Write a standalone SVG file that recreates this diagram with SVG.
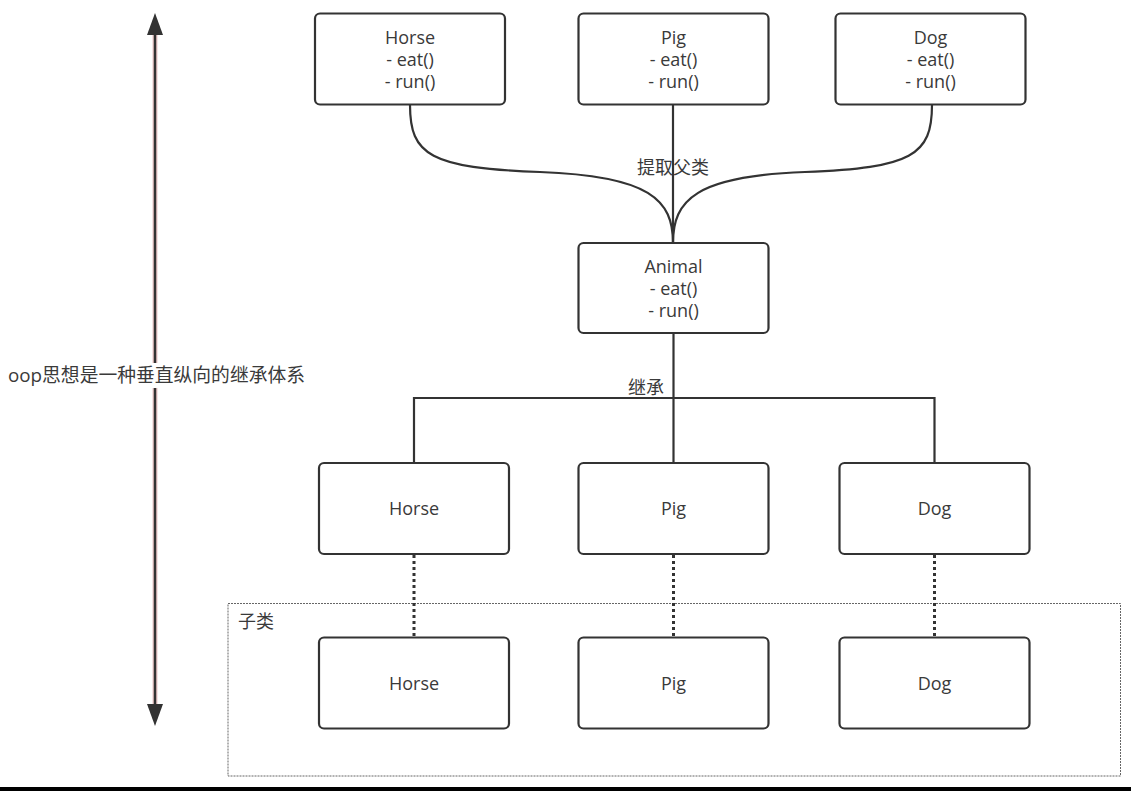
<svg xmlns="http://www.w3.org/2000/svg" width="1131" height="791" viewBox="0 0 1131 791">
<style>
.box{fill:#fff;stroke:#333;stroke-width:2.2}
.t{font-family:"Open Sans","Noto Sans CJK SC",sans-serif;font-size:18px;fill:#3a3a3a;text-anchor:middle}
.c{fill:none;stroke:#333;stroke-width:2.2}
.dot{fill:none;stroke:#333;stroke-width:3;stroke-dasharray:3 3}
</style>
<rect x="0" y="0" width="1131" height="791" fill="#fff"/>
<g id="container">
<rect x="228" y="603.5" width="892.5" height="172.5" fill="none" stroke="#666" stroke-width="1" stroke-dasharray="2 1"/>
<text class="t" x="256" y="628">子类</text>
</g>
<g id="axis">
<line x1="155" y1="33" x2="155" y2="706" stroke="#ecc9c9" stroke-width="5"/>
<line x1="155" y1="33" x2="155" y2="706" stroke="#333" stroke-width="2.5"/>
<polygon points="155,13 147,35 163,35" fill="#333"/>
<polygon points="155,726 147,704 163,704" fill="#333"/>
<rect x="6" y="363" width="301" height="25" fill="#fff"/>
<text class="t" x="156.5" y="382" style="font-size:18.8px">oop思想是一种垂直纵向的继承体系</text>
</g>
<g id="connectors">
<path class="c" d="M410,105 C410,155 430,168 540,172 C650,176 673,200 673,243"/>
<path class="c" d="M673,105 L673,243"/>
<path class="c" d="M932,105 C932,155 912,168 805,172 C696,176 673,200 673,243"/>
<text class="t" x="673" y="174">提取父类</text>
<path class="c" d="M673.5,333 L673.5,463"/>
<path class="c" d="M414,463 L414,398 L934.5,398 L934.5,463"/>
<text class="t" x="646" y="394">继承</text>
<line class="dot" x1="414" y1="555" x2="414" y2="637"/>
<line class="dot" x1="673.5" y1="555" x2="673.5" y2="637"/>
<line class="dot" x1="934.5" y1="555" x2="934.5" y2="637"/>
</g>
<g id="horse-top">
<rect class="box" x="315" y="13.5" width="190" height="91" rx="5"/>
<text class="t" x="410" y="44">Horse</text>
<text class="t" x="410" y="66">- eat()</text>
<text class="t" x="410" y="88">- run()</text>
</g>
<g id="pig-top">
<rect class="box" x="578.5" y="13.5" width="190" height="91" rx="5"/>
<text class="t" x="673.5" y="44">Pig</text>
<text class="t" x="673.5" y="66">- eat()</text>
<text class="t" x="673.5" y="88">- run()</text>
</g>
<g id="dog-top">
<rect class="box" x="835.5" y="13.5" width="190" height="91" rx="5"/>
<text class="t" x="930.5" y="44">Dog</text>
<text class="t" x="930.5" y="66">- eat()</text>
<text class="t" x="930.5" y="88">- run()</text>
</g>
<g id="animal">
<rect class="box" x="578.5" y="243" width="190" height="90" rx="5"/>
<text class="t" x="673.5" y="273">Animal</text>
<text class="t" x="673.5" y="295">- eat()</text>
<text class="t" x="673.5" y="317">- run()</text>
</g>
<g id="horse-mid">
<rect class="box" x="319" y="463" width="190" height="91" rx="5"/>
<text class="t" x="414" y="515">Horse</text>
</g>
<g id="pig-mid">
<rect class="box" x="578.5" y="463" width="190" height="91" rx="5"/>
<text class="t" x="673.5" y="515">Pig</text>
</g>
<g id="dog-mid">
<rect class="box" x="839.5" y="463" width="190" height="91" rx="5"/>
<text class="t" x="934.5" y="515">Dog</text>
</g>
<g id="horse-bot">
<rect class="box" x="319" y="637.5" width="190" height="91" rx="5"/>
<text class="t" x="414" y="690">Horse</text>
</g>
<g id="pig-bot">
<rect class="box" x="578.5" y="637.5" width="190" height="91" rx="5"/>
<text class="t" x="673.5" y="690">Pig</text>
</g>
<g id="dog-bot">
<rect class="box" x="839.5" y="637.5" width="190" height="91" rx="5"/>
<text class="t" x="934.5" y="690">Dog</text>
</g>
<rect id="bottom-rule" x="0" y="787" width="1131" height="4" fill="#000"/>
</svg>
